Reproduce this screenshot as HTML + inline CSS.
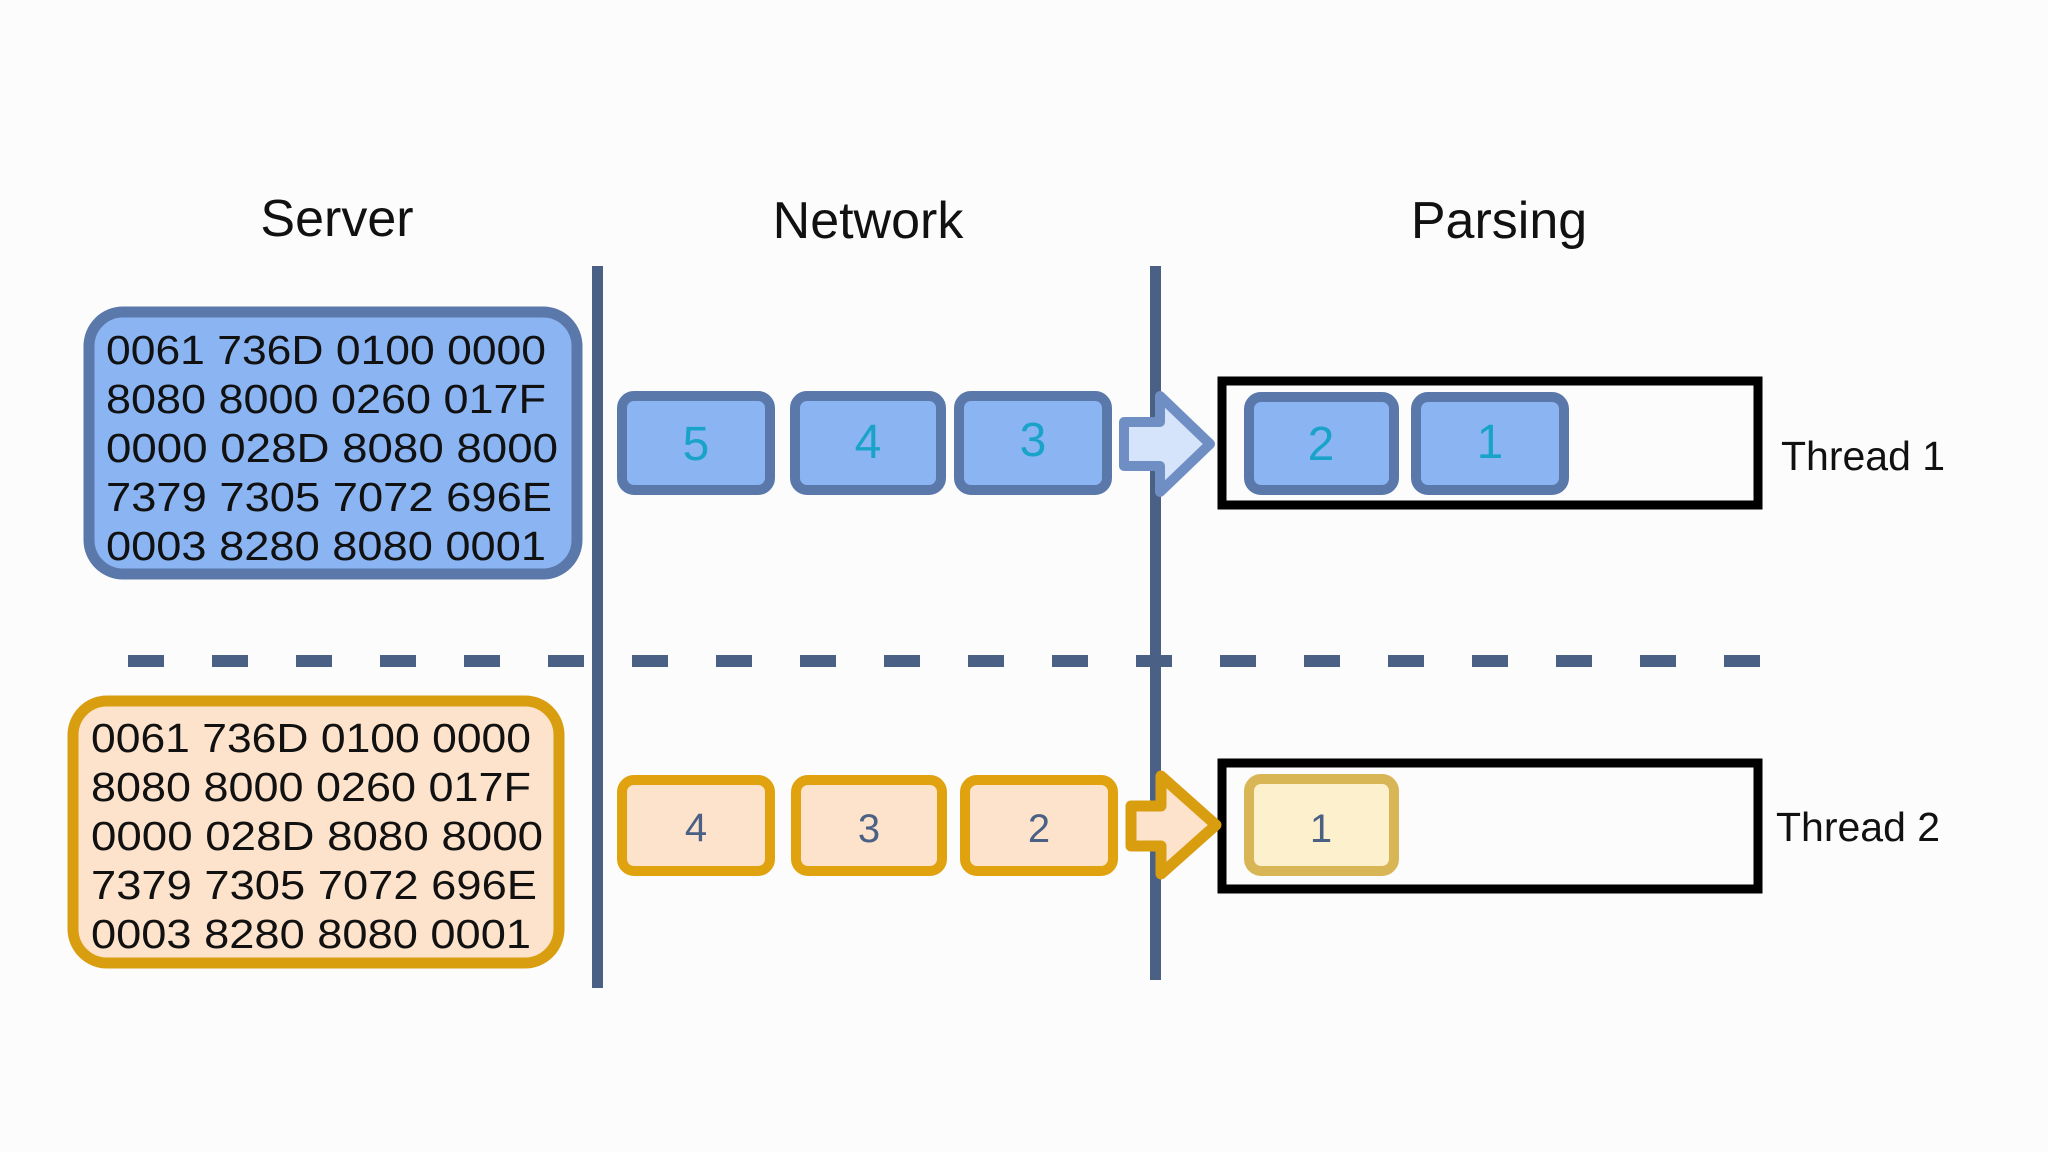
<!DOCTYPE html>
<html><head><meta charset="utf-8"><style>
html,body{margin:0;padding:0;background:#fcfcfd;}
svg{display:block}
text{font-family:"Liberation Sans",sans-serif;}
</style></head><body>
<svg width="2048" height="1152" viewBox="0 0 2048 1152" xmlns="http://www.w3.org/2000/svg">
<rect width="2048" height="1152" fill="#fcfcfd"/>
<!-- titles -->
<g font-size="52" fill="#111" text-anchor="middle">
<text x="337" y="236">Server</text>
<text x="868" y="238">Network</text>
<text x="1499" y="238">Parsing</text>
</g>
<!-- dashed line -->
<line x1="128" y1="661" x2="1760" y2="661" stroke="#4a6185" stroke-width="12" stroke-dasharray="36 48"/>
<!-- vertical lines -->
<rect x="592" y="266" width="11" height="722" fill="#4a6185"/>
<rect x="1150" y="266" width="11" height="714" fill="#4a6185"/>
<!-- server blue -->
<rect x="89" y="312" width="488" height="262" rx="34" fill="#8ab4f2" stroke="#5b78ab" stroke-width="11"/>
<g font-size="41" fill="#111">
<text x="106" y="364" textLength="440" lengthAdjust="spacingAndGlyphs">0061 736D 0100 0000</text>
<text x="106" y="413" textLength="440" lengthAdjust="spacingAndGlyphs">8080 8000 0260 017F</text>
<text x="106" y="462" textLength="452" lengthAdjust="spacingAndGlyphs">0000 028D 8080 8000</text>
<text x="106" y="511" textLength="446" lengthAdjust="spacingAndGlyphs">7379 7305 7072 696E</text>
<text x="106" y="560" textLength="440" lengthAdjust="spacingAndGlyphs">0003 8280 8080 0001</text>
</g>
<!-- server orange -->
<rect x="73" y="701" width="486" height="262" rx="34" fill="#fde3cc" stroke="#d99e10" stroke-width="11"/>
<g font-size="41" fill="#111">
<text x="91" y="752" textLength="440" lengthAdjust="spacingAndGlyphs">0061 736D 0100 0000</text>
<text x="91" y="801" textLength="440" lengthAdjust="spacingAndGlyphs">8080 8000 0260 017F</text>
<text x="91" y="850" textLength="452" lengthAdjust="spacingAndGlyphs">0000 028D 8080 8000</text>
<text x="91" y="899" textLength="446" lengthAdjust="spacingAndGlyphs">7379 7305 7072 696E</text>
<text x="91" y="948" textLength="440" lengthAdjust="spacingAndGlyphs">0003 8280 8080 0001</text>
</g>
<!-- blue packets -->
<g fill="#8ab4f2" stroke="#5b78ab" stroke-width="10">
<rect x="622" y="396" width="148" height="94" rx="12"/>
<rect x="795" y="396" width="146" height="94" rx="12"/>
<rect x="959" y="396" width="148" height="94" rx="12"/>
<rect x="1249" y="397" width="145" height="93" rx="12"/>
<rect x="1416" y="397" width="148" height="93" rx="12"/>
</g>
<g font-size="48" fill="#1aa3c9" text-anchor="middle">
<text x="696" y="460">5</text>
<text x="868" y="458">4</text>
<text x="1033" y="456">3</text>
<text x="1321" y="460">2</text>
<text x="1490" y="458">1</text>
</g>
<!-- blue arrow -->
<polygon points="1124,422 1160,422 1160,396 1210,444 1160,492 1160,466 1124,466" fill="#d6e4fb" stroke="#6f8fc4" stroke-width="10" stroke-linejoin="round"/>
<!-- thread boxes -->
<rect x="1222" y="381" width="536" height="124" fill="none" stroke="#000" stroke-width="9"/>
<rect x="1222" y="763" width="536" height="126" fill="none" stroke="#000" stroke-width="9"/>
<!-- orange packets -->
<g fill="#fde3cc" stroke="#e0a20e" stroke-width="10">
<rect x="622" y="780" width="148" height="91" rx="12"/>
<rect x="796" y="780" width="146" height="91" rx="12"/>
<rect x="965" y="780" width="148" height="91" rx="12"/>
</g>
<rect x="1249" y="779" width="145" height="92" rx="12" fill="#fdf0cc" stroke="#d9b655" stroke-width="10"/>
<g font-size="40" fill="#4a6185" text-anchor="middle">
<text x="696" y="841">4</text>
<text x="869" y="842">3</text>
<text x="1039" y="842">2</text>
<text x="1321" y="842">1</text>
</g>
<!-- orange arrow -->
<polygon points="1131,806 1161,806 1161,776 1216,825 1161,874 1161,846 1131,846" fill="#fde3cc" stroke="#d99e10" stroke-width="11" stroke-linejoin="round"/>
<!-- thread labels -->
<g font-size="41" fill="#111">
<text x="1781" y="470">Thread 1</text>
<text x="1776" y="841">Thread 2</text>
</g>
</svg>
</body></html>
